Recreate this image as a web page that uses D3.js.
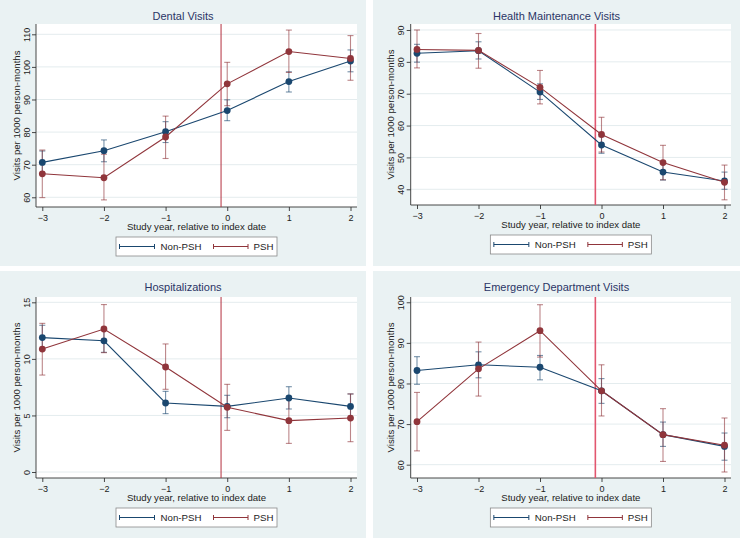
<!DOCTYPE html>
<html><head><meta charset="utf-8">
<script src="https://cdn.jsdelivr.net/npm/d3@7/dist/d3.min.js"></script>
<style>body{margin:0;background:#fff}svg{display:block;font-family:"Liberation Sans",Arial,sans-serif}</style>
</head><body><svg id="c" width="740" height="538"></svg>
<script>
// ---- data ----
const years = [-3, -2, -1, 0, 1, 2];
const indexLine = -0.1;
const seriesNames = ["Non-PSH", "PSH"];
const panelTitles = ["Dental Visits", "Health Maintenance Visits", "Hospitalizations", "Emergency Department Visits"];
const xLabel = "Study year, relative to index date";
const yLabel = "Visits per 1000 person-months";

const dentalTicks = [60, 70, 80, 90, 100, 110];
const dentalNon = [70.7, 74.3, 80.1, 86.6, 95.5, 101.8];
const dentalNonLo = [67.4, 70.9, 76.8, 83.5, 92.3, 98.5];
const dentalNonHi = [74.2, 77.6, 83.2, 89.9, 98.5, 105.2];
const dentalPsh = [67.2, 66.0, 78.5, 94.8, 104.7, 102.6];
const dentalPshLo = [59.9, 59.2, 71.9, 88.1, 98.3, 95.9];
const dentalPshHi = [74.5, 73.2, 84.9, 101.4, 111.3, 109.6];

const hmTicks = [40, 50, 60, 70, 80, 90];
const hmNon = [82.7, 83.5, 70.5, 53.9, 45.4, 42.6];
const hmNonLo = [79.9, 80.9, 68.2, 51.3, 42.9, 40.0];
const hmNonHi = [85.5, 86.3, 73.1, 56.5, 48.2, 45.4];
const hmPsh = [83.9, 83.6, 72.0, 57.2, 48.4, 42.2];
const hmPshLo = [78.1, 78.0, 66.8, 51.7, 43.0, 36.7];
const hmPshHi = [90.0, 88.9, 77.3, 62.6, 53.8, 47.6];

const hospTicks = [0, 5, 10, 15];
const hospNon = [11.88, 11.6, 6.1, 5.8, 6.54, 5.8];
const hospNonLo = [10.8, 10.58, 5.16, 4.8, 5.57, 4.77];
const hospNonHi = [12.97, 12.67, 7.13, 6.78, 7.54, 6.9];
const hospPsh = [10.87, 12.64, 9.28, 5.72, 4.54, 4.77];
const hospPshLo = [8.57, 10.55, 7.31, 3.68, 2.53, 2.68];
const hospPshHi = [13.14, 14.8, 11.32, 7.75, 6.54, 6.9];

const edTicks = [60, 70, 80, 90, 100];
const edNon = [83.2, 84.6, 84.0, 78.2, 67.4, 64.5];
const edNonLo = [79.8, 81.4, 80.9, 75.1, 64.5, 61.1];
const edNonHi = [86.6, 87.8, 86.9, 81.2, 70.5, 67.8];
const edPsh = [70.6, 83.6, 93.0, 78.2, 67.4, 64.8];
const edPshLo = [63.4, 76.9, 86.5, 72.0, 60.8, 58.2];
const edPshHi = [77.8, 90.2, 99.4, 84.6, 73.8, 71.5];

// ---- layout ----
const colors = ["#1a476f", "#90353b"];
const bg = "#eaf2f3";
const panels = [
  {title: panelTitles[0], ticks: dentalTicks, dom: [57.02, 113.16], box: [0, 0, 366, 266], plot: {l: 36, r: 357, t: 24, b: 207},
   s: [[dentalNon, dentalNonLo, dentalNonHi], [dentalPsh, dentalPshLo, dentalPshHi]], vl: {c: "#b3303f", w: 1}},
  {title: panelTitles[1], ticks: hmTicks, dom: [35.07, 91.88], box: [373, 0, 367, 266], plot: {l: 410.7, r: 731, t: 24, b: 205},
   s: [[hmNon, hmNonLo, hmNonHi], [hmPsh, hmPshLo, hmPshHi]], vl: {c: "#e2566f", w: 1.6}},
  {title: panelTitles[2], ticks: hospTicks, dom: [-0.53, 15.47], box: [0, 271, 366, 267], plot: {l: 36, r: 357, t: 297, b: 478},
   s: [[hospNon, hospNonLo, hospNonHi], [hospPsh, hospPshLo, hospPshHi]], vl: {c: "#b3303f", w: 1}},
  {title: panelTitles[3], ticks: edTicks, dom: [56.72, 101.3], box: [373, 271, 367, 267], plot: {l: 410.7, r: 731, t: 297, b: 478},
   s: [[edNon, edNonLo, edNonHi], [edPsh, edPshLo, edPshHi]], vl: {c: "#e2566f", w: 1.6}}
];

const svg = d3.select("#c");
svg.append("rect").attr("width", 740).attr("height", 538).attr("fill", "#fff");

panels.forEach(p => {
  const g = svg.append("g");
  const [bx, by, bw, bh] = p.box;
  g.append("rect").attr("x", bx).attr("y", by).attr("width", bw).attr("height", bh).attr("fill", bg);
  const P = p.plot;
  g.append("rect").attr("x", P.l).attr("y", P.t).attr("width", P.r - P.l).attr("height", P.b - P.t).attr("fill", "#fff");

  const x = d3.scaleLinear().domain([years[0], years[years.length - 1]]).range([P.l + 6.3, P.r - 6.5]);
  const y = d3.scaleLinear().domain(p.dom).range([P.b, P.t]);

  // grid
  g.selectAll(".grid").data(p.ticks).join("line")
    .attr("x1", P.l).attr("x2", P.r).attr("y1", d => y(d)).attr("y2", d => y(d))
    .attr("stroke", "#e4ecee").attr("stroke-width", 1);

  // axes
  const yAxis = d3.axisLeft(y).tickValues(p.ticks).tickSize(4).tickPadding(3);
  const ya = g.append("g").attr("transform", `translate(${P.l},0)`).call(yAxis);
  ya.select(".domain").attr("d", `M0,${P.t}V${P.b}`).attr("stroke", "#333").attr("stroke-width", 0.9);
  ya.selectAll(".tick line").attr("stroke", "#333").attr("stroke-width", 0.9);
  ya.selectAll(".tick text").attr("font-size", 9).attr("fill", "#222").attr("font-family", "Liberation Sans, Arial, sans-serif")
    .attr("text-anchor", "middle").attr("dy", null).attr("x", null)
    .attr("transform", "translate(-6.5,0) rotate(-90)").attr("y", 0);

  const xAxis = d3.axisBottom(x).tickValues(years).tickSize(4).tickPadding(2).tickFormat(d3.format("d"));
  const xa = g.append("g").attr("transform", `translate(0,${P.b})`).call(xAxis);
  xa.select(".domain").attr("d", `M${P.l},0H${P.r}`).attr("stroke", "#333").attr("stroke-width", 0.9);
  xa.selectAll(".tick line").attr("stroke", "#333").attr("stroke-width", 0.9);
  xa.selectAll(".tick text").attr("font-size", 9).attr("fill", "#222").attr("font-family", "Liberation Sans, Arial, sans-serif")
    .attr("dy", null).attr("y", 13.5);

  // vertical index line
  g.append("line").attr("x1", x(indexLine)).attr("x2", x(indexLine)).attr("y1", P.t).attr("y2", P.b)
    .attr("stroke", p.vl.c).attr("stroke-width", p.vl.w);

  // CIs
  p.s.forEach((s, si) => {
    const [m, lo, hi] = s;
    const cg = g.append("g").attr("stroke", colors[si]).attr("stroke-opacity", 0.6).attr("stroke-width", 1.1);
    years.forEach((yr, i) => {
      const cx = x(yr);
      cg.append("line").attr("x1", cx).attr("x2", cx).attr("y1", y(lo[i])).attr("y2", y(hi[i]));
      cg.append("line").attr("x1", cx - 3).attr("x2", cx + 3).attr("y1", y(lo[i])).attr("y2", y(lo[i]));
      cg.append("line").attr("x1", cx - 3).attr("x2", cx + 3).attr("y1", y(hi[i])).attr("y2", y(hi[i]));
    });
  });
  // lines + markers
  p.s.forEach((s, si) => {
    const m = s[0];
    const line = d3.line().x((d, i) => x(years[i])).y(d => y(d));
    g.append("path").attr("d", line(m)).attr("fill", "none").attr("stroke", colors[si]).attr("stroke-width", 1.1);
    g.selectAll(null).data(m).join("circle").attr("cx", (d, i) => x(years[i])).attr("cy", d => y(d))
      .attr("r", 3.4).attr("fill", colors[si]);
  });

  // titles
  g.append("text").attr("x", bx + bw / 2).attr("y", by + 20).attr("text-anchor", "middle")
    .attr("font-size", 11).attr("fill", "#2a3566").text(p.title);
  const cx = (P.l + P.r) / 2;
  g.append("text").attr("x", cx).attr("y", P.b + 23).attr("text-anchor", "middle")
    .attr("font-size", 9.6).attr("fill", "#222").text(xLabel);
  const cy = (P.t + P.b) / 2;
  g.append("text").attr("transform", `translate(${P.l - 16.5},${cy}) rotate(-90)`).attr("text-anchor", "middle")
    .attr("font-size", 9.6).attr("fill", "#222").text(yLabel);

  // legend
  const lw = 161, lh = 19, lx = cx - lw / 2, ly = P.b + 30;
  g.append("rect").attr("x", lx).attr("y", ly).attr("width", lw).attr("height", lh)
    .attr("fill", "#fff").attr("stroke", "#8a8a8a").attr("stroke-width", 0.8);
  const keys = [{x0: 3.5, x1: 38.5, tx: 44.5}, {x0: 97.5, x1: 132, tx: 137.5}];
  keys.forEach((k, i) => {
    const kg = g.append("g").attr("stroke", colors[i]).attr("stroke-width", 1);
    const yy = ly + lh / 2;
    kg.append("line").attr("x1", lx + k.x0).attr("x2", lx + k.x1).attr("y1", yy).attr("y2", yy);
    kg.append("line").attr("x1", lx + k.x0).attr("x2", lx + k.x0).attr("y1", yy - 2.5).attr("y2", yy + 2.5);
    kg.append("line").attr("x1", lx + k.x1).attr("x2", lx + k.x1).attr("y1", yy - 2.5).attr("y2", yy + 2.5);
    g.append("text").attr("x", lx + k.tx).attr("y", yy + 3.5).attr("font-size", 9.7).attr("fill", "#222").text(seriesNames[i]);
  });
});
</script></body></html>
